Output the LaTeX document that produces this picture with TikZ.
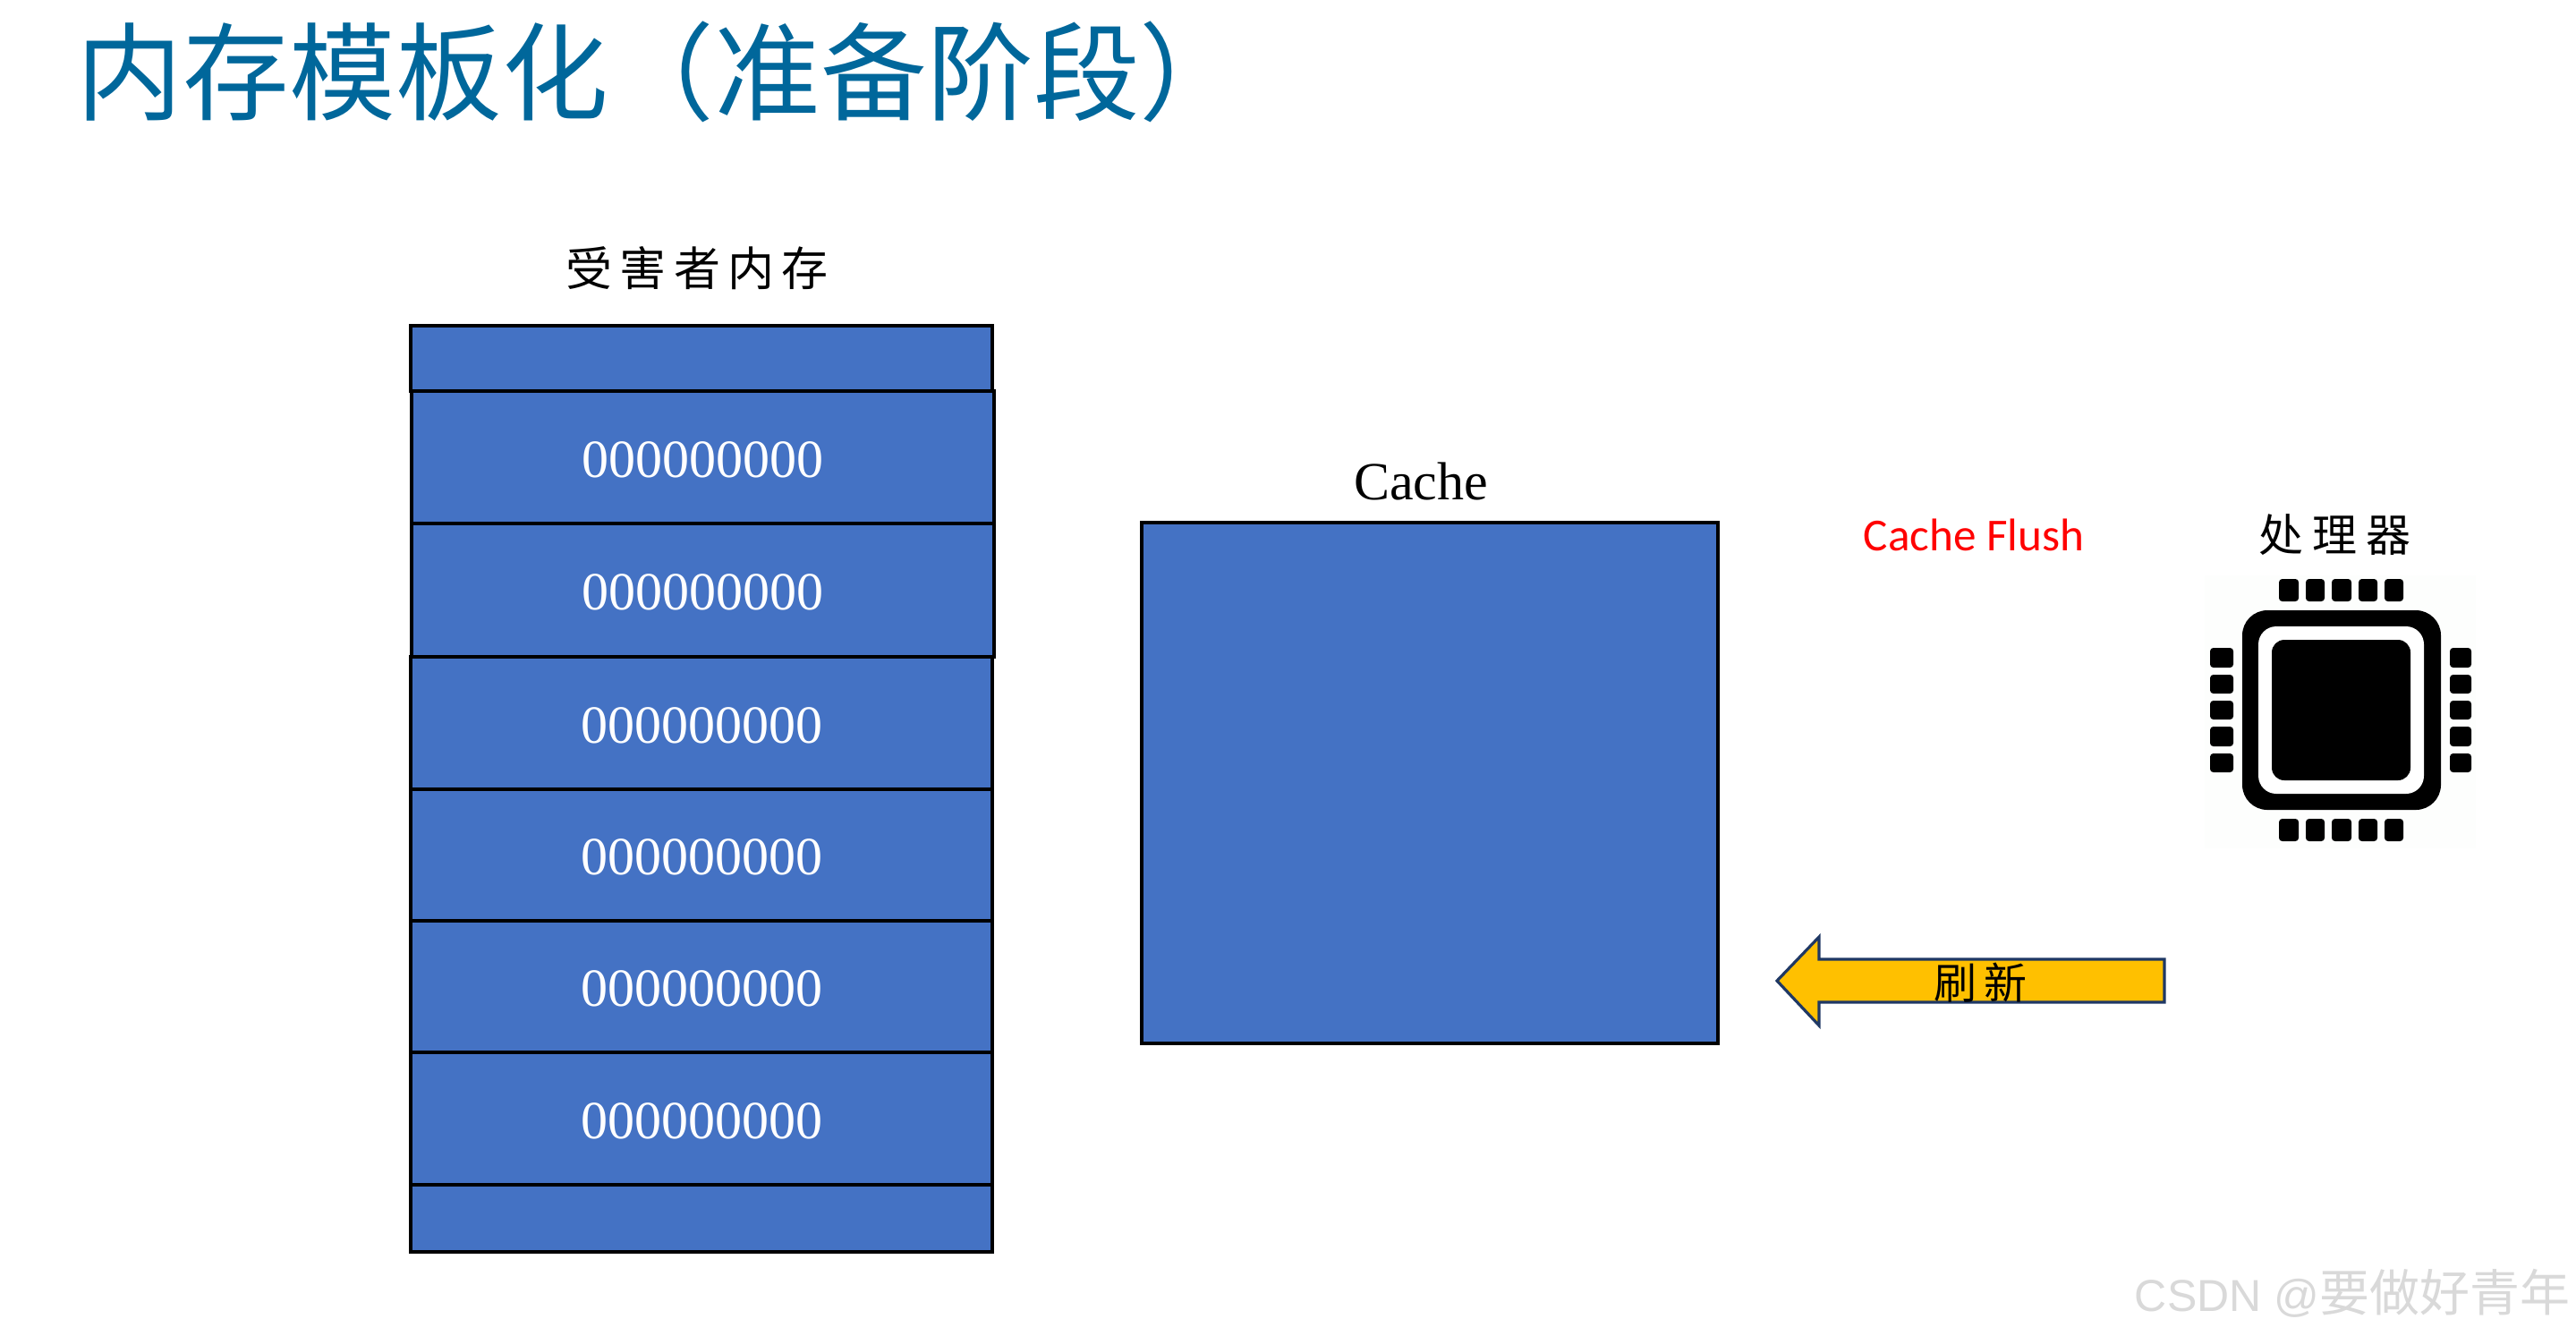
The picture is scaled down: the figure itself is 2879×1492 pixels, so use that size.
\documentclass[tikz,border=0pt]{standalone}
\usepackage{fontspec}
\setmainfont{Liberation Serif}
\newfontfamily\cjk{Noto Sans CJK SC}
\newfontfamily\carlito{Carlito}
\newfontfamily\arial{Liberation Sans}
\definecolor{memblue}{HTML}{4472C4}
\definecolor{titleblue}{HTML}{00679B}
\definecolor{arrowfill}{HTML}{FFC000}
\definecolor{arrowline}{HTML}{1F3864}
\definecolor{chipback}{HTML}{FDFEFD}
\tikzset{
  x=0.25pt,y=-0.25pt,
  cell/.style={fill=memblue,draw=black,line width=0.8pt},
  celltext/.style={text=white,font=\fontsize{15}{18}\selectfont,inner sep=0pt,yshift=-0.7pt},
  pin/.style={fill=black,rounded corners=0.9pt},
  label/.style={inner sep=0pt,text=black},
}
\begin{document}
\begin{tikzpicture}
\useasboundingbox (0,0) rectangle (2879,1492);
\fill[white] (0,0) rectangle (2879,1492);
% title
\node[inner sep=0pt,anchor=west,text=titleblue,font=\cjk\fontsize{29.7}{36}\selectfont] (title) at (85,80) {内存模板化（准备阶段）};
% memory
\draw[cell] (459,364) rectangle (1109,437);
\draw[cell] (460,437) rectangle (1111,585) node[midway,celltext] (m1) {000000000};
\draw[cell] (460,585) rectangle (1111,734) node[midway,celltext] (m2) {000000000};
\draw[cell] (459,734) rectangle (1109,882) node[midway,celltext] (m3) {000000000};
\draw[cell] (459,882) rectangle (1109,1029) node[midway,celltext] (m4) {000000000};
\draw[cell] (459,1029) rectangle (1109,1176) node[midway,celltext] (m5) {000000000};
\draw[cell] (459,1176) rectangle (1109,1324) node[midway,celltext] (m6) {000000000};
\draw[cell] (459,1324) rectangle (1109,1399);
\node[label,font=\cjk\fontsize{13}{15}\selectfont] (memlabel) at (779,300) {受\kern2.1pt害\kern2.1pt者\kern2.1pt内\kern2.1pt存};
% cache
\draw[cell] (1276,584) rectangle (1920,1166);
\node[label,font=\fontsize{15}{18}\selectfont] (cachelabel) at (1588,538) {Cache};
% flush
\node[inner sep=0pt,text=red,font=\carlito\fontsize{12.8}{15}\selectfont] (flush) at (2206,598) {Cache Flush};
\node[label,font=\cjk\fontsize{12.5}{15}\selectfont] (cpulabel) at (2609,598) {处\kern2.5pt理\kern2.5pt器};
% chip
\fill[chipback] (2464,643) rectangle (2767,948);
\fill[black,rounded corners=7pt] (2506,682) rectangle (2728,905);
\fill[white,rounded corners=5pt] (2524,700) rectangle (2709,887);
\fill[black,rounded corners=3.5pt] (2539,715) rectangle (2694,872);
\foreach \a/\b in {2547/2569,2577/2598,2606/2628,2636/2657,2665/2686}{
  \fill[pin] (\a,647) rectangle (\b,672);
  \fill[pin] (\a,915) rectangle (\b,940);
}
\foreach \a/\b in {724/746,754/775,783/804,812/834,842/863}{
  \fill[pin] (2470,\a) rectangle (2496,\b);
  \fill[pin] (2738,\a) rectangle (2762,\b);
}
% arrow
\draw[fill=arrowfill,draw=arrowline,line width=0.8pt,miter limit=10]
  (1986,1096) -- (2033,1047) -- (2033,1072) -- (2419,1072) -- (2419,1120) -- (2033,1120) -- (2033,1146) -- cycle;
\node[label,font=\cjk\fontsize{12}{14}\selectfont] (flushcn) at (2213,1098) {刷\kern2pt新};
% watermark
\node[inner sep=0pt,anchor=east,text=black!15] (mark) at (2873,1445) {{\arial\fontsize{12.5}{15}\selectfont CSDN @}{\cjk\fontsize{14}{16}\selectfont 要做好青年}};
\end{tikzpicture}
\end{document}
